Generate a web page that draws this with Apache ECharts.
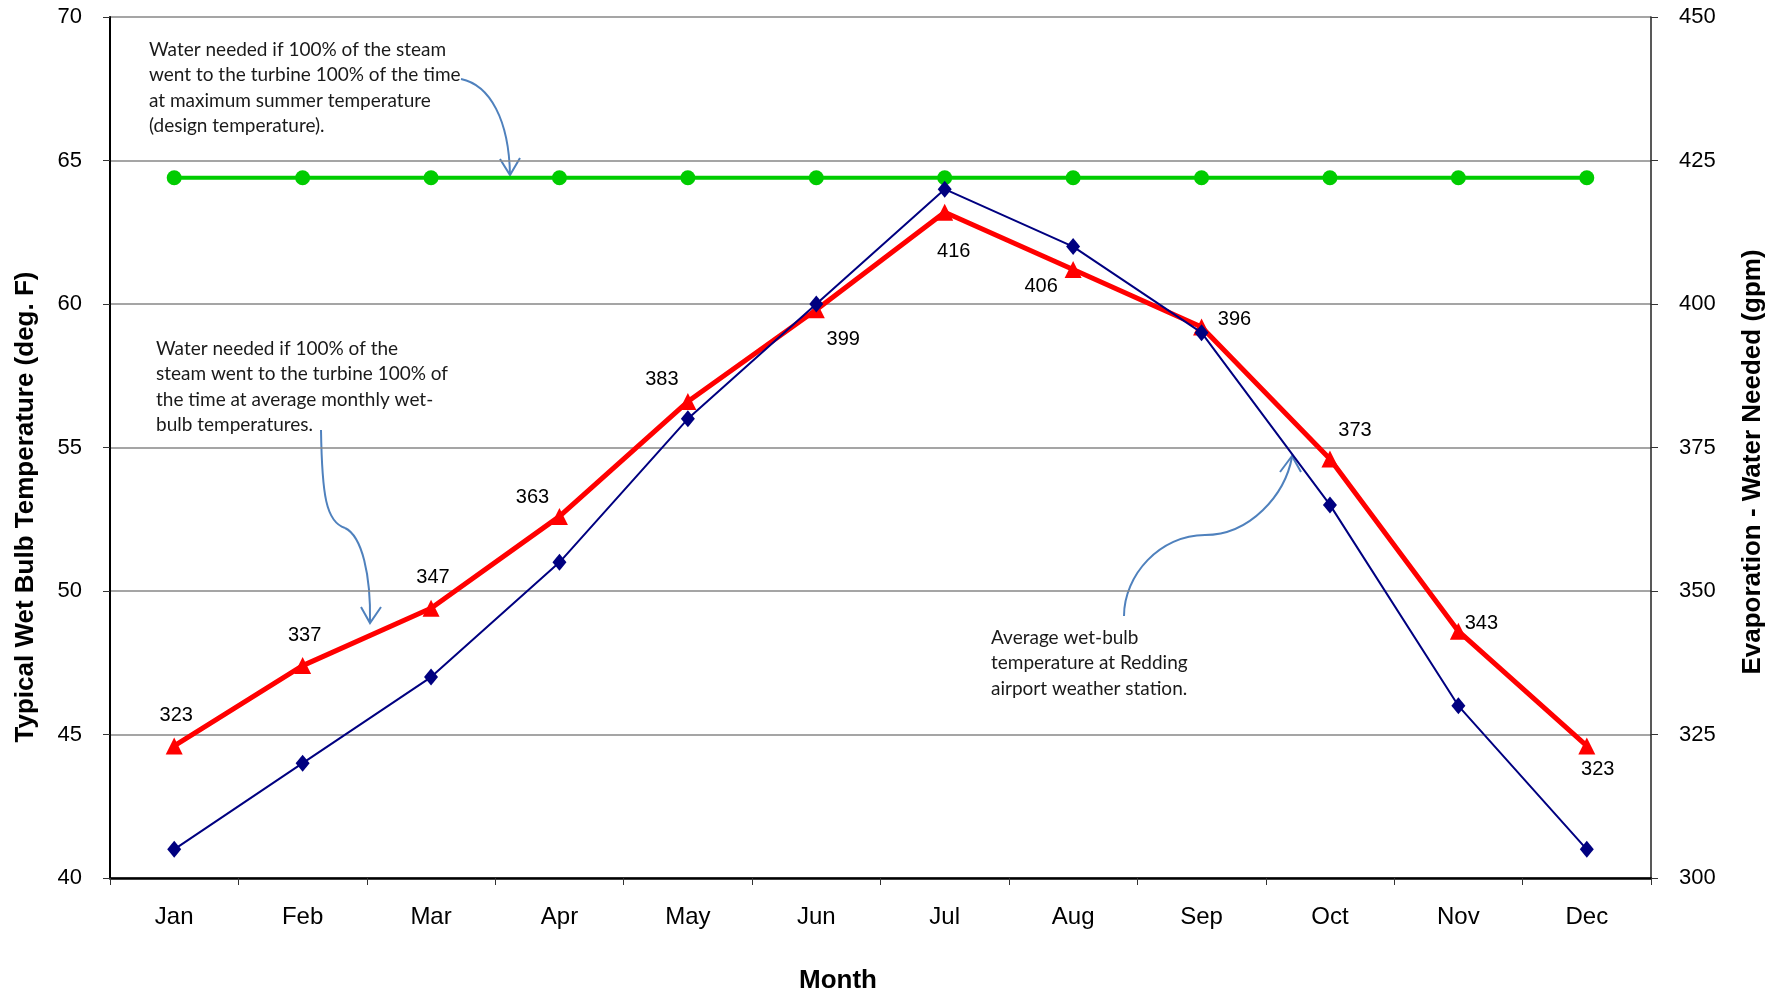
<!DOCTYPE html>
<html>
<head>
<meta charset="utf-8">
<title>Wet Bulb Temperature and Evaporation</title>
<script src="https://cdn.jsdelivr.net/npm/echarts@6/dist/echarts.min.js"></script>
<style>
  html, body { margin: 0; padding: 0; background: #fff; }
  #chart { width: 1783px; height: 997px; }
</style>
</head>
<body>
<div id="chart"></div>
<script>
// Months along the bottom axis
const months = ['Jan', 'Feb', 'Mar', 'Apr', 'May', 'Jun', 'Jul', 'Aug', 'Sep', 'Oct', 'Nov', 'Dec'];

// Average monthly wet-bulb temperature, deg. F (left axis)
const wetBulbTemp = [41, 44, 47, 51, 56, 60, 64, 62, 59, 53, 46, 41];

// Evaporation at average monthly wet-bulb temperature, gpm (right axis)
const waterMonthly = [323, 337, 347, 363, 383, 399, 416, 406, 396, 373, 343, 323];

// Evaporation at design (maximum summer) temperature, gpm (right axis)
const waterDesign = [422, 422, 422, 422, 422, 422, 422, 422, 422, 422, 422, 422];

// Axis ranges
const tempAxis = { min: 40, max: 70, step: 5 };
const gpmAxis = { min: 300, max: 450, step: 25 };

// Where each monthly value label sits relative to its marker (px)
const labelOffsets = [
  [2, -30], [2, -30], [2, -31], [-27, -19], [-26, -22], [27, 30],
  [9, 39], [-32, 17], [33, -7], [25, -28], [23, -8], [11, 24]
];

const TICK_FONT = '"Liberation Sans", Arial, sans-serif';
const NOTE_FONT = 'Lato, "Open Sans", sans-serif';
const ARROW = '#4f81bd';

const chart = echarts.init(document.getElementById('chart'), null, { renderer: 'canvas' });

const monthlyData = waterMonthly.map((v, i) => ({
  value: v,
  label: { offset: labelOffsets[i] }
}));

function noteText(x, y, lines) {
  return {
    type: 'text', x: x, y: y, silent: true,
    style: {
      text: lines.join('\n'),
      font: '19px ' + NOTE_FONT,
      fill: '#1a1a1a',
      lineHeight: 25.5,
      textVerticalAlign: 'top'
    }
  };
}

function arrowHead(left, tip, right) {
  return {
    type: 'polyline', silent: true,
    shape: { points: [left, tip, right] },
    style: { stroke: ARROW, lineWidth: 2, fill: null }
  };
}

function curve(pts) {
  return {
    type: 'bezierCurve', silent: true,
    shape: { x1: pts[0], y1: pts[1], cpx1: pts[2], cpy1: pts[3], cpx2: pts[4], cpy2: pts[5], x2: pts[6], y2: pts[7] },
    style: { stroke: ARROW, lineWidth: 2, fill: null }
  };
}

const option = {
  backgroundColor: '#ffffff',
  animation: false,
  grid: { left: 110, right: 132, top: 17, bottom: 119, containLabel: false },
  xAxis: {
    type: 'category',
    data: months,
    boundaryGap: true,
    axisLine: { show: true, lineStyle: { color: '#000', width: 2.5 } },
    axisTick: { show: true, length: 7, lineStyle: { color: '#333', width: 1 } },
    axisLabel: { interval: 0, margin: 27, color: '#000', fontSize: 24, fontFamily: TICK_FONT },
    splitLine: { show: false }
  },
  yAxis: [
    {
      type: 'value',
      position: 'left',
      min: tempAxis.min, max: tempAxis.max, interval: tempAxis.step,
      axisLine: { show: true, lineStyle: { color: '#000', width: 2 } },
      axisTick: { show: true, length: 7, lineStyle: { color: '#333', width: 1 } },
      axisLabel: { margin: 28, color: '#000', fontSize: 22, fontFamily: TICK_FONT },
      splitLine: { show: true, lineStyle: { color: '#878787', width: 1.5 } }
    },
    {
      type: 'value',
      position: 'right',
      min: gpmAxis.min, max: gpmAxis.max, interval: gpmAxis.step,
      axisLine: { show: true, lineStyle: { color: '#222', width: 1.5 } },
      axisTick: { show: true, length: 7, lineStyle: { color: '#333', width: 1 } },
      axisLabel: { margin: 28, color: '#000', fontSize: 22, fontFamily: TICK_FONT },
      splitLine: { show: false }
    }
  ],
  series: [
    {
      name: 'Design temperature',
      type: 'line',
      yAxisIndex: 1,
      data: waterDesign,
      symbol: 'circle',
      symbolSize: 15,
      lineStyle: { color: '#00cc00', width: 4 },
      itemStyle: { color: '#00cc00' },
      z: 3
    },
    {
      name: 'Monthly water needed',
      type: 'line',
      yAxisIndex: 1,
      data: monthlyData,
      symbol: 'triangle',
      symbolSize: 17,
      lineStyle: { color: '#ff0000', width: 5 },
      itemStyle: { color: '#ff0000' },
      label: {
        show: true,
        position: 'inside',
        color: '#000',
        fontSize: 20,
        fontFamily: TICK_FONT
      },
      z: 4
    },
    {
      name: 'Wet bulb temperature',
      type: 'line',
      yAxisIndex: 0,
      data: wetBulbTemp,
      symbol: 'diamond',
      symbolSize: [14, 17],
      lineStyle: { color: '#000080', width: 2 },
      itemStyle: { color: '#000080' },
      z: 5
    }
  ],
  graphic: [
    // axis titles
    {
      type: 'text', x: 26, y: 507, rotation: Math.PI / 2, silent: true,
      style: {
        text: 'Typical Wet Bulb Temperature (deg. F)',
        font: 'bold 26px ' + TICK_FONT, fill: '#000',
        textAlign: 'center', textVerticalAlign: 'middle'
      }
    },
    {
      type: 'text', x: 1753, y: 462, rotation: Math.PI / 2, silent: true,
      style: {
        text: 'Evaporation - Water Needed (gpm)',
        font: 'bold 26px ' + TICK_FONT, fill: '#000',
        textAlign: 'center', textVerticalAlign: 'middle'
      }
    },
    {
      type: 'text', x: 838, y: 981, silent: true,
      style: {
        text: 'Month',
        font: 'bold 26px ' + TICK_FONT, fill: '#000',
        textAlign: 'center', textVerticalAlign: 'middle'
      }
    },
    // notes and their pointers
    noteText(149, 37, [
      'Water needed if 100% of the steam',
      'went to the turbine 100% of the time',
      'at maximum summer temperature',
      '(design temperature).'
    ]),
    curve([461, 79, 490, 85, 509, 120, 510, 175]),
    arrowHead([500, 159], [510, 175], [520, 158]),

    noteText(156, 336, [
      'Water needed if 100% of the',
      'steam went to the turbine 100% of',
      'the time at average monthly wet-',
      'bulb temperatures.'
    ]),
    curve([321, 430, 322, 495, 326, 522, 345, 528]),
    curve([345, 528, 362, 536, 371, 575, 370, 623]),
    arrowHead([361, 607], [370, 623], [381, 607]),

    noteText(991, 625, [
      'Average wet-bulb',
      'temperature at Redding',
      'airport weather station.'
    ]),
    curve([1124, 616, 1124, 575, 1160, 535, 1205, 535]),
    curve([1205, 535, 1250, 535, 1285, 495, 1292, 457]),
    arrowHead([1280, 472], [1292, 456], [1301, 472])
  ]
};

chart.setOption(option);
</script>
</body>
</html>
